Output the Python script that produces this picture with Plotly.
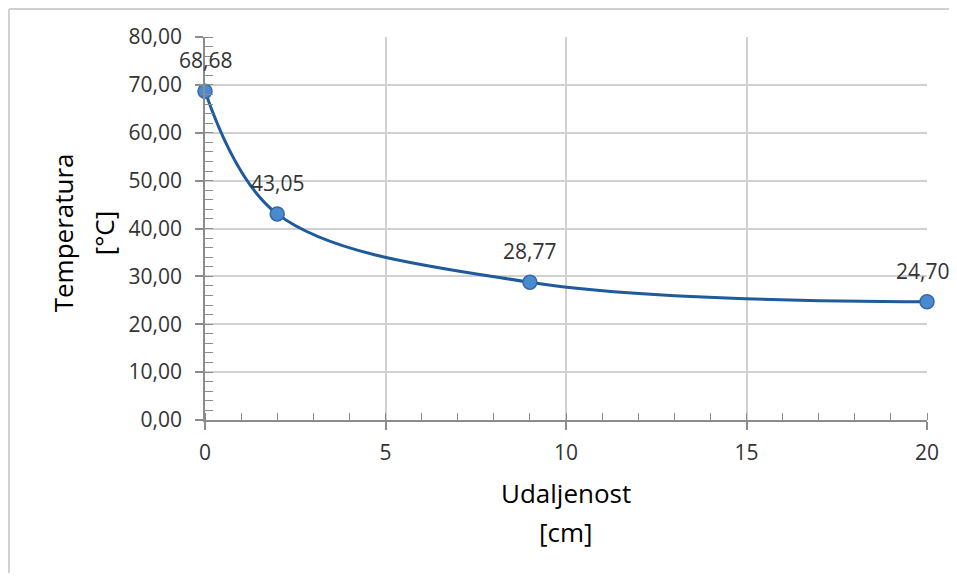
import plotly.graph_objects as go

# Udaljenost [cm] vs Temperatura [°C]
udaljenost = [0, 2, 9, 20]
temperatura = [68.68, 43.05, 28.77, 24.70]
oznake = ["68,68", "43,05", "28,77", "24,70"]

FONT = "Open Sans"
GRID = "#d0d0d0"
AXIS = "#8c8c8c"
TXT = "#333333"

fig = go.Figure()
fig.add_trace(go.Scatter(
    x=udaljenost, y=temperatura,
    mode="lines+markers",
    line=dict(color="#1f5a9a", width=3, shape="spline", smoothing=1),
    marker=dict(size=14, color="#4a8ad0", line=dict(color="#3568a8", width=1.5)),
    cliponaxis=False,
    showlegend=False, hoverinfo="skip",
))

# data labels above the points (last one nudged so it stays inside the page)
for i, (xv, yv, t) in enumerate(zip(udaljenost, temperatura, oznake)):
    fig.add_annotation(x=xv, y=yv, text=t, showarrow=False, yshift=31,
                       xshift=-5 if i == len(oznake) - 1 else 0,
                       font=dict(family=FONT, size=21, color=TXT))

# axis titles, two lines each
tfont = dict(family=FONT, size=26, color="#000000")
ttl = dict(xref="paper", yref="paper", showarrow=False, font=tfont,
           xanchor="center", yanchor="middle")
fig.add_annotation(x=-0.1967, y=0.49, text="Temperatura", textangle=-90, **ttl)
fig.add_annotation(x=-0.1399, y=0.49, text="[°C]", textangle=-90, **ttl)
fig.add_annotation(x=0.5, y=-0.1906, text="Udaljenost", **ttl)
fig.add_annotation(x=0.5, y=-0.2924, text="[cm]", **ttl)

# page body adds an 8px offset, so the figure is smaller than the window
fig.update_layout(
    width=949, height=565,
    margin=dict(l=197, r=30, t=29, b=153),
    paper_bgcolor="white", plot_bgcolor="white",
    font=dict(family=FONT, size=21, color=TXT),
    separators=",.",
)

fig.update_xaxes(
    range=[0, 20], dtick=5, tick0=0,
    showgrid=True, gridcolor=GRID, gridwidth=1.5,
    showline=True, linecolor=AXIS, linewidth=1.5, zeroline=False,
    ticks="outside", ticklen=8, tickcolor=AXIS, tickwidth=1.5,
    minor=dict(dtick=1, ticks="inside", ticklen=7, tickcolor=AXIS, tickwidth=1.2, showgrid=False),
    tickfont=dict(family=FONT, size=21, color=TXT), ticklabelstandoff=5,
)
fig.update_yaxes(
    range=[0, 80], dtick=10, tick0=0, tickformat=".2f",
    showgrid=True, gridcolor=GRID, gridwidth=1.5,
    showline=True, linecolor=AXIS, linewidth=1.5, zeroline=False,
    ticks="outside", ticklen=8, tickcolor=AXIS, tickwidth=1.5,
    minor=dict(dtick=2, ticks="inside", ticklen=8, tickcolor=AXIS, tickwidth=1.2, showgrid=False),
    tickfont=dict(family=FONT, size=21, color=TXT), ticklabelstandoff=9,
)

# chart-area frame (only top and left edges visible in the picture)
fig.add_shape(type="line", xref="paper", yref="paper",
              x0=-0.2715, x1=1.1, y0=1.0731, y1=1.0731,
              line=dict(color="#d0d0d0", width=2))
fig.add_shape(type="line", xref="paper", yref="paper",
              x0=-0.2715, x1=-0.2715, y0=1.0731, y1=-0.5,
              line=dict(color="#d0d0d0", width=2))

fig.write_html("out.html")
